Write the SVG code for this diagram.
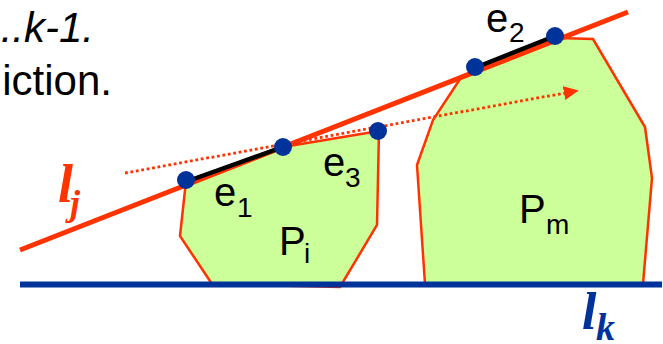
<svg xmlns="http://www.w3.org/2000/svg" width="663" height="344" viewBox="0 0 663 344">
<style>
.poly{fill:#CCFF99;stroke:#FF3300;stroke-width:2.5;stroke-linejoin:miter}
.lbl{font-family:"Liberation Sans",Arial,sans-serif;font-size:40px;fill:#000}
.sub{font-family:"Liberation Sans",Arial,sans-serif;font-size:28px;fill:#000}
.head{font-family:"Liberation Sans",Arial,sans-serif;font-size:42px;fill:#000}
.math{font-family:"Liberation Serif","Times New Roman",serif;font-style:italic;font-weight:bold}
.dot{fill:#003399}
.edge{stroke:#000;stroke-width:4.5;stroke-linecap:round}
</style>
<defs>
<marker id="ah" markerWidth="16" markerHeight="16" refX="1" refY="7" orient="auto" markerUnits="userSpaceOnUse" viewBox="0 0 16 14">
<path d="M0,0 L15,7 L0,14 Z" fill="#FF3300"/>
</marker>
</defs>
<rect width="663" height="344" fill="#fff"/>
<text class="head" x="94" y="42" text-anchor="end" font-style="italic">..k-1.</text>
<text class="head" x="112" y="95" text-anchor="end">iction.</text>
<g id="Pi">
<polygon class="poly" points="186,181 283,147 379,131 377,225 340,287 212,284 180,236"/>
<text class="lbl" x="279" y="255">P</text><text class="sub" x="304" y="263">i</text>
</g>
<g id="Pm">
<polygon class="poly" points="462,76 558,38 593,39 645,127 652,178 643,284 425,284 417,165 433,120"/>
<text class="lbl" x="519" y="223">P</text><text class="sub" x="546" y="234">m</text>
</g>
<g id="connectors">
<line id="lj" x1="20" y1="250" x2="628" y2="12" stroke="#FF3300" stroke-width="5"/>
<line id="lk" x1="20" y1="284.5" x2="662" y2="284.5" stroke="#003399" stroke-width="6"/>
<line id="dir" x1="125" y1="173" x2="565" y2="93" stroke="#FF3300" stroke-width="2.8" stroke-dasharray="2.8 2.7" marker-end="url(#ah)"/>
<line class="edge" x1="188" y1="181" x2="283" y2="147"/>
<line class="edge" x1="477" y1="67" x2="555" y2="36"/>
</g>
<g id="points">
<circle class="dot" cx="186" cy="180" r="9"/>
<circle class="dot" cx="283" cy="147" r="9"/>
<circle class="dot" cx="378" cy="131" r="9"/>
<circle class="dot" cx="475" cy="67" r="9"/>
<circle class="dot" cx="555" cy="36" r="9"/>
</g>
<g id="labels">
<text class="lbl" x="214" y="206">e</text><text class="sub" x="237" y="217">1</text>
<text class="lbl" x="323" y="176">e</text><text class="sub" x="345" y="187">3</text>
<text class="lbl" x="486" y="32">e</text><text class="sub" x="509" y="42">2</text>
<text class="math" x="58" y="202" font-size="54" fill="#FF3300">l</text><text class="math" x="70" y="215" font-size="36" fill="#FF3300">j</text>
<text class="math" x="582" y="329" font-size="52" fill="#003399">l</text><text class="math" x="596" y="340" font-size="38" fill="#003399">k</text>
</g>
</svg>
